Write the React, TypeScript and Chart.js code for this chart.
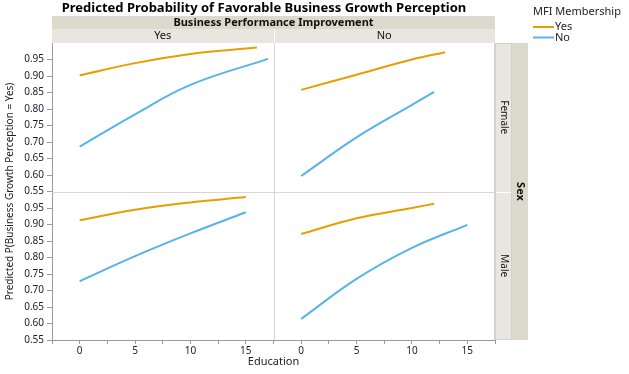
import React, { useEffect, useRef } from "react";
import { Chart, registerables } from "chart.js";
Chart.register(...registerables);

const chartTitle = "Predicted Probability of Favorable Business Growth Perception";
const colFacetTitle = "Business Performance Improvement";
const colFacets = ["Yes", "No"];
const rowFacetTitle = "Sex";
const rowFacets = ["Female", "Male"];
const legendTitle = "MFI Membership";
const groupNames = ["Yes", "No"];
const xTitle = "Education";
const yTitle = "Predicted P(Business Growth Perception = Yes)";
const yTickValues = [0.55, 0.6, 0.65, 0.7, 0.75, 0.8, 0.85, 0.9, 0.95];
const xTickMarks = [-2.5, 0, 2.5, 5, 7.5, 10, 12.5, 15, 17.5];
const xTickLabels = [0, 5, 10, 15];

// Female, Business Performance Improvement = Yes
const femImpYes_mfiYes_edu = [0, 5, 10, 16];
const femImpYes_mfiYes_p = [0.902, 0.939, 0.967, 0.986];
const femImpYes_mfiNo_edu = [0, 5, 10, 17];
const femImpYes_mfiNo_p = [0.686, 0.784, 0.873, 0.952];
// Female, Business Performance Improvement = No
const femImpNo_mfiYes_edu = [0, 5, 10, 13];
const femImpNo_mfiYes_p = [0.858, 0.904, 0.95, 0.972];
const femImpNo_mfiNo_edu = [0, 5, 10, 12];
const femImpNo_mfiNo_p = [0.597, 0.714, 0.8125, 0.852];
// Male, Business Performance Improvement = Yes
const malImpYes_mfiYes_edu = [0, 5, 10, 15];
const malImpYes_mfiYes_p = [0.913, 0.945, 0.967, 0.983];
const malImpYes_mfiNo_edu = [0, 5, 10, 15];
const malImpYes_mfiNo_p = [0.728, 0.804, 0.873, 0.937];
// Male, Business Performance Improvement = No
const malImpNo_mfiYes_edu = [0, 5, 10, 12];
const malImpNo_mfiYes_p = [0.871, 0.919, 0.95, 0.963];
const malImpNo_mfiNo_edu = [0, 5, 10, 15];
const malImpNo_mfiNo_p = [0.614, 0.735, 0.829, 0.899];

const COLOR_YES = "#E69F00";
const COLOR_NO = "#56B4E9";
const STRIP_DARK = "#dcdacd";
const STRIP_LIGHT = "#e8e6de";
const FONT = "'Noto Sans', 'DejaVu Sans', sans-serif";

const pts = (xs: number[], ys: number[]) => xs.map((x, i) => ({ x, y: ys[i] }));

const panels = [
  { x: "xL", y: "yF", yes: pts(femImpYes_mfiYes_edu, femImpYes_mfiYes_p), no: pts(femImpYes_mfiNo_edu, femImpYes_mfiNo_p) },
  { x: "xR", y: "yF", yes: pts(femImpNo_mfiYes_edu, femImpNo_mfiYes_p), no: pts(femImpNo_mfiNo_edu, femImpNo_mfiNo_p) },
  { x: "xL", y: "yM", yes: pts(malImpYes_mfiYes_edu, malImpYes_mfiYes_p), no: pts(malImpYes_mfiNo_edu, malImpYes_mfiNo_p) },
  { x: "xR", y: "yM", yes: pts(malImpNo_mfiYes_edu, malImpNo_mfiYes_p), no: pts(malImpNo_mfiNo_edu, malImpNo_mfiNo_p) },
];

const facetPlugin = {
  id: "facets",
  beforeDatasetsDraw(chart: any) {
    const ctx = chart.ctx;
    const a = chart.chartArea;
    const xL = chart.scales.xL;
    const yF = chart.scales.yF;
    ctx.save();
    ctx.strokeStyle = "#d6d6d6";
    ctx.lineWidth = 1;
    const vx = Math.round(xL.right) + 0.5;
    const hy = Math.round(yF.bottom) + 0.5;
    ctx.beginPath();
    ctx.moveTo(vx, a.top);
    ctx.lineTo(vx, a.bottom);
    ctx.moveTo(a.left, hy);
    ctx.lineTo(a.right, hy);
    ctx.moveTo(Math.round(a.right) - 0.5, a.top);
    ctx.lineTo(Math.round(a.right) - 0.5, a.bottom);
    ctx.stroke();
    ctx.restore();
  },
  afterDraw(chart: any) {
    const ctx = chart.ctx;
    const a = chart.chartArea;
    const xL = chart.scales.xL;
    const xR = chart.scales.xR;
    const yF = chart.scales.yF;
    const yM = chart.scales.yM;
    ctx.save();
    // top strips
    const t0 = a.top - 27;
    const t1 = a.top - 14;
    ctx.fillStyle = STRIP_DARK;
    ctx.fillRect(a.left, t0, a.right - a.left, t1 - t0);
    ctx.fillStyle = STRIP_LIGHT;
    ctx.fillRect(a.left, t1, a.right - a.left, a.top - t1);
    ctx.fillStyle = "#ffffff";
    ctx.fillRect(Math.round(xL.right), t1, 1, a.top - t1);
    // right strips
    const r0 = a.right;
    const r1 = a.right + 17;
    const r2 = a.right + 33;
    ctx.fillStyle = STRIP_LIGHT;
    ctx.fillRect(r0, a.top, r1 - r0, a.bottom - a.top);
    ctx.fillStyle = STRIP_DARK;
    ctx.fillRect(r1, a.top, r2 - r1, a.bottom - a.top);
    ctx.fillStyle = "#ffffff";
    ctx.fillRect(r0, Math.round(yF.bottom), r1 - r0, 1);
    ctx.strokeStyle = "#d0d0d0";
    ctx.lineWidth = 1;
    ctx.strokeRect(r0 + 0.5, a.top + 0.5, r1 - r0 - 1, a.bottom - a.top - 1);

    ctx.fillStyle = "#111";
    ctx.textAlign = "center";
    ctx.textBaseline = "middle";
    ctx.font = `bold 11px ${FONT}`;
    ctx.fillText(colFacetTitle, (a.left + a.right) / 2, (t0 + t1) / 2);
    ctx.font = `11px ${FONT}`;
    ctx.fillText(colFacets[0], (xL.left + xL.right) / 2, (t1 + a.top) / 2);
    ctx.fillText(colFacets[1], (xR.left + xR.right) / 2, (t1 + a.top) / 2);

    // rotated row strip labels
    const rot = (text: string, x: number, y: number, font: string, angle: number) => {
      ctx.save();
      ctx.translate(x, y);
      ctx.rotate(angle);
      ctx.font = font;
      ctx.fillText(text, 0, 0);
      ctx.restore();
    };
    rot(rowFacets[0], (r0 + r1) / 2, (yF.top + yF.bottom) / 2, `10px ${FONT}`, Math.PI / 2);
    rot(rowFacets[1], (r0 + r1) / 2, (yM.top + yM.bottom) / 2, `10px ${FONT}`, Math.PI / 2);
    rot(rowFacetTitle, (r1 + r2) / 2, (a.top + a.bottom) / 2, `bold 11px ${FONT}`, Math.PI / 2);

    // title
    ctx.font = `bold 13px ${FONT}`;
    ctx.fillStyle = "#000";
    ctx.fillText(chartTitle, 264, 8);

    // axis titles
    ctx.fillStyle = "#222";
    ctx.font = `11px ${FONT}`;
    ctx.fillText(xTitle, (a.left + a.right) / 2, 362);
    rot(yTitle, 10, (a.top + a.bottom) / 2, `10px ${FONT}`, -Math.PI / 2);

    // legend
    ctx.textAlign = "left";
    ctx.font = `11px ${FONT}`;
    ctx.fillStyle = "#222";
    ctx.fillText(legendTitle, 533, 12);
    const legendColors = [COLOR_YES, COLOR_NO];
    groupNames.forEach((g, i) => {
      const ly = 27 + i * 10.5;
      ctx.strokeStyle = legendColors[i];
      ctx.lineWidth = 2;
      ctx.beginPath();
      ctx.moveTo(533, ly);
      ctx.lineTo(554, ly);
      ctx.stroke();
      ctx.fillStyle = "#222";
      ctx.fillText(g, 555, ly);
    });
    ctx.restore();
  },
};

const axisX = (weight: number) => ({
  type: "linear" as const,
  position: "bottom" as const,
  stack: "cols",
  stackWeight: 1,
  weight,
  min: -2.5,
  max: 17.5,
  afterFit: (s: any) => {
    s.height = 34;
  },
  afterBuildTicks: (s: any) => {
    s.ticks = xTickMarks.map((v) => ({ value: v }));
  },
  grid: { drawOnChartArea: false, drawTicks: true, tickLength: 4, tickColor: "#9a9a9a" },
  border: { display: true, color: "#9a9a9a" },
  ticks: {
    autoSkip: false,
    maxRotation: 0,
    padding: 1,
    color: "#1a1a2e",
    font: { family: FONT, size: 10 },
    callback: (v: any) => (xTickLabels.includes(Number(v)) ? String(v) : ""),
  },
});

const axisY = (weight: number) => ({
  type: "linear" as const,
  position: "left" as const,
  stack: "rows",
  stackWeight: 1,
  weight,
  min: 0.55,
  max: 1.0,
  afterFit: (s: any) => {
    s.width = 52;
  },
  afterBuildTicks: (s: any) => {
    s.ticks = yTickValues.map((v) => ({ value: v }));
  },
  grid: { drawOnChartArea: false, drawTicks: true, tickLength: 5, tickColor: "#9a9a9a" },
  border: { display: true, color: "#9a9a9a" },
  ticks: {
    autoSkip: false,
    padding: 3,
    color: "#1a1a2e",
    font: { family: FONT, size: 10 },
    callback: (v: any) => Number(v).toFixed(2),
  },
});

export default function App() {
  const ref = useRef<HTMLCanvasElement | null>(null);
  useEffect(() => {
    if (!ref.current) return;
    const datasets: any[] = [];
    panels.forEach((p) => {
      datasets.push({
        label: groupNames[0],
        data: p.yes,
        xAxisID: p.x,
        yAxisID: p.y,
        borderColor: COLOR_YES,
        borderWidth: 2,
        pointRadius: 0,
        fill: false,
        tension: 0.4,
      });
      datasets.push({
        label: groupNames[1],
        data: p.no,
        xAxisID: p.x,
        yAxisID: p.y,
        borderColor: COLOR_NO,
        borderWidth: 2,
        pointRadius: 0,
        fill: false,
        tension: 0.4,
      });
    });
    const chart = new Chart(ref.current, {
      type: "line",
      data: { datasets },
      options: {
        animation: false,
        responsive: false,
        devicePixelRatio: 1,
        layout: { padding: { left: 0, right: 134, top: 43, bottom: 0 } },
        plugins: { legend: { display: false }, tooltip: { enabled: false }, title: { display: false } },
        scales: {
          xL: axisX(1),
          xR: axisX(2),
          yF: axisY(2),
          yM: axisY(1),
        } as any,
      },
      plugins: [facetPlugin],
    });
    return () => chart.destroy();
  }, []);
  return (
    <div style={{ position: "absolute", left: 0, top: 0, width: 629, height: 374, background: "#fff" }}>
      <canvas ref={ref} width={629} height={374} />
    </div>
  );
}
